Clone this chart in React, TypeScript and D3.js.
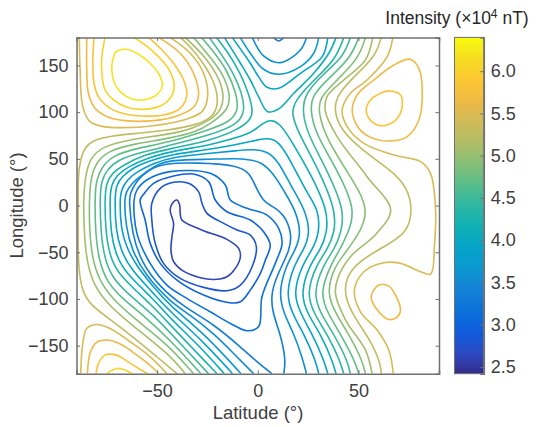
import React, { useRef, useEffect } from 'react';
import * as d3 from 'd3';

type Pt = [number, number]; // [latitude, longitude]

const latTicks = [-50, 0, 50];
const lonTicks = [-150, -100, -50, 0, 50, 100, 150];
const barTicks = [2.5, 3, 3.5, 4, 4.5, 5, 5.5, 6];
const barDomain = [2.42, 6.4];

// contour levels, x10^4 nT
const levels = [2.61, 2.8, 2.99, 3.18, 3.37, 3.56, 3.75, 3.94, 4.13, 4.32, 4.51, 4.7, 4.89, 5.08, 5.27, 5.46, 5.65, 5.84, 6.03, 6.22];

// parula samples, evenly spaced
const parula = ['#352a87', '#2c4cc6', '#0f5cdd', '#0a72d9', '#1481d6', '#0c97d1', '#06a4ca', '#0fb0b4', '#2eb7a4', '#58bd8a', '#87bf77', '#b2bd65', '#d1bb59', '#efb944', '#fec832', '#f5dd21', '#f9fb0e'];

const c1: Pt[] = [[-43.5,-4.8],[-42.6,1.6],[-40.1,5.9],[-38.8,0.5],[-38.5,-8.4],[-37.7,-15.5],[-26.9,-26.9],[-15.3,-36.2],[-9.5,-45.9],[-8.6,-54.8],[-11.1,-67.3],[-15.3,-76.2],[-21.9,-79.1],[-30.2,-76.2],[-37.7,-69.1],[-41.8,-60.1],[-43.1,-47.7],[-42.6,-33.4],[-41.8,-19.1]];
const c2: Pt[] = [[-52.6,2.4],[-48.4,18.4],[-41.8,24.9],[-34.3,23.8],[-29.4,14.9],[-27.7,2.4],[-25.2,-8.4],[-16.9,-19.1],[-10.3,-26.2],[-3.7,-31.6],[-0.7,-44.1],[-2.8,-65.5],[-8.6,-85.1],[-15.3,-91.2],[-26.9,-87.6],[-38.5,-78],[-46.8,-61.9],[-50.9,-40.5],[-52.6,-15.5]];
const c3: Pt[] = [[-58.4,5.9],[-56.7,12],[-51.7,23.8],[-41.8,31.6],[-31.9,33.8],[-24.4,25.6],[-21.1,5.9],[-15.3,-6.6],[-3.7,-15.5],[2.9,-28],[6.2,-42.3],[3.8,-58.4],[1.3,-72.6],[-3.7,-90.5],[-8.6,-103],[-14,-104],[-26.9,-95.8],[-40.1,-79.8],[-48.4,-61.9],[-53.4,-40.5],[-55.9,-15.5]];
const c4: Pt[] = [[-61.4,5.9],[-60,16.6],[-55.1,27.4],[-43.5,36.3],[-23.6,34.5],[-16.1,22],[-13.6,5.9],[-5.3,-3],[4.6,-10.2],[10.4,-24.4],[12.1,-40.5],[8.7,-61.9],[2.1,-97.6],[0.4,-129.8],[-5.3,-134],[-13.6,-126.2],[-23.6,-113.7],[-35.2,-99.4],[-45.1,-85.1],[-53.4,-61.9],[-60,-29.8]];
const c5: Pt[] = [[7,-180],[0.5,-169],[-8.6,-151.2],[-21.9,-126.9],[-36.8,-108.3],[-48.4,-87.6],[-57.6,-61.9],[-62.5,-29.8],[-63.9,5.9],[-63.4,13.1],[-60,27.4],[-54.2,38.1],[-46.8,45.2],[-30.2,45.9],[-10.3,43.4],[-3.7,34.5],[-1.2,20.2],[3,4.1],[6.2,0.5],[12.9,-8.4],[17,-29.8],[15.9,-47.7],[10.4,-70.9],[6.6,-92.3],[7.1,-113.7],[11.2,-136.9],[14,-165.5],[12.9,-180]];
const c5Top: Pt[] = [[7.9,180],[10.4,176.2],[12.9,180]];
const c6: Pt[] = [[-2,-180],[-12,-158.3],[-21.9,-136.9],[-33.5,-117.3],[-43.5,-103],[-55.9,-74.4],[-62.5,-47.7],[-65.5,-22.7],[-66.3,5.9],[-65.3,14.9],[-62.5,23.8],[-57.6,32.7],[-50.1,44.1],[-43.5,48.8],[-23.6,49.5],[-10.3,50.6],[-3.7,48.8],[1.3,47],[7.9,34.5],[13.7,13.1],[18.7,-4.8],[21.7,-29.8],[18.7,-47.7],[13.7,-65.5],[10.4,-94.1],[12.9,-115.5],[17.9,-136.9],[22,-161.9],[24.2,-180]];
const c6Top: Pt[] = [[-2.7,180],[2.9,160.2],[11.2,153],[21.2,166.6],[24.2,180]];
const c7: Pt[] = [[-8.3,-180],[-26.9,-136.2],[-43.5,-107.6],[-51.7,-87.6],[-60.5,-63.7],[-65.3,-44.1],[-68,-24.4],[-68.5,5.9],[-67.8,16.6],[-65,27.4],[-60,36.3],[-51.7,45.2],[-43.5,51.6],[-23.6,55.9],[-10.3,58.8],[-3.7,60.2],[4.6,58.8],[10.4,47],[16.2,22],[23.7,-4.8],[26.1,-29.8],[22.8,-47.7],[17.9,-63.7],[14,-94.1],[17,-115.5],[23.7,-140.5],[28.6,-165.5],[30.3,-180]];
const c7Top: Pt[] = [[-8.7,180],[-3.7,163],[2.9,145.9],[10.4,140.5],[21.2,148.7],[27.8,163],[30.3,180]];
const c8: Pt[] = [[-12.5,-180],[-26.9,-145.8],[-43.5,-113.7],[-51.7,-94.1],[-63.4,-67.3],[-68,-47.7],[-70.5,-26.2],[-71,5.9],[-70.3,22],[-67.5,30.9],[-61.7,40.9],[-53.4,48.1],[-43.5,54.5],[-23.6,60.2],[-12,64.8],[-3.7,68.4],[4.6,72.7],[10.4,69.5],[17,45.2],[24.5,13.1],[30.3,-4.8],[30.6,-29.8],[27,-47.7],[22,-63.7],[17.5,-94.1],[21.2,-115.5],[27.8,-140.5],[32.8,-165.5],[34.8,-180]];
const c8Top: Pt[] = [[-12.7,180],[-3.7,152.3],[0.4,138],[4.6,126.6],[10.4,125.5],[21.2,141.6],[32,159.4],[34.8,180]];
const c9: Pt[] = [[-16.6,-180],[-30.2,-147.6],[-43.5,-120.8],[-51.7,-100.1],[-66.3,-70.9],[-70.6,-51.2],[-73,-29.8],[-73.5,5.9],[-72.8,22],[-70,32.7],[-64.2,41.6],[-55.1,50.6],[-43.5,57.7],[-23.6,64.8],[-13.6,70.9],[-3.7,77.3],[0.4,84.5],[5.4,92],[10.4,90],[17,68.4],[26.1,34.5],[34.8,-4.8],[34.4,-29.8],[31.1,-47.7],[25.6,-63.7],[21.2,-94.1],[24.5,-115.5],[32,-140.5],[36.9,-165.5],[38.9,-180]];
const c9Top: Pt[] = [[-16.6,180],[-8.6,152.3],[-3.7,134.4],[0.4,116.6],[4.9,100.5],[10.4,103.5],[17.9,120.2],[27.8,141.6],[35.3,163],[38.9,180]];
const c10Left: Pt[] = [[-20.6,180],[-14.4,163],[-8.6,141.6],[-4.5,120.2],[-2,98.8],[-4.5,89.8],[-10.3,80.9],[-23.6,69.5],[-43.5,60.9],[-56.7,54.1],[-66.7,43.4],[-72.5,34.5],[-75.3,23.8],[-76,5.9],[-75.5,-29.8],[-73.3,-54.8],[-69.2,-74.4],[-51.7,-108.3],[-43.5,-128],[-20.2,-180]];
const c10Right: Pt[] = [[42.7,180],[38.6,155.9],[27.8,134.4],[18.7,113],[16.5,98.8],[20.3,77.3],[29.5,41.6],[38.9,-4.8],[38.1,-29.8],[34.4,-47.7],[29,-63.7],[24.2,-94.1],[27.8,-115.5],[35.3,-140.5],[40.7,-165.5],[42.7,-180]];
const c11Left: Pt[] = [[-24.1,180],[-17.8,161.2],[-12,141.6],[-7.8,120.2],[-6.2,100.5],[-10.3,86.3],[-23.6,75.5],[-43.5,64.5],[-58.4,56.6],[-69.2,49.5],[-75,38.1],[-77.8,25.6],[-78.4,5.9],[-77.9,-29.8],[-76.1,-56.6],[-72.1,-78],[-64.2,-95.1],[-51.7,-117.3],[-43.5,-136.2],[-24.4,-180]];
const c11Right: Pt[] = [[46,180],[42.7,159.4],[32,139.8],[23.7,120.2],[22,102.3],[24.5,77.3],[34.4,38.1],[43.2,-4.8],[41.4,-29.8],[37.8,-47.7],[32.4,-63.7],[27.5,-94.1],[31.1,-115.5],[38.6,-140.5],[44.4,-165.5],[46,-180]];
const c12Left: Pt[] = [[-28,180],[-21.9,164.8],[-15.3,145.2],[-10.6,120.2],[-9.5,102.3],[-13.6,89.8],[-23.6,81.6],[-43.5,68],[-60,61.3],[-71.6,54.1],[-77.4,41.6],[-80.3,27.4],[-80.9,5.9],[-80.6,-29.8],[-78.9,-58.4],[-75,-81.6],[-67.5,-99.4],[-55.9,-119.1],[-43.5,-144],[-28.2,-180]];
const c12Right: Pt[] = [[50.2,180],[46,157.7],[36.1,138],[27,118.4],[26.1,102.3],[28.6,77.3],[38.6,41.6],[49,-4.8],[44.7,-29.8],[40.7,-47.7],[36.1,-63.7],[30.8,-94.1],[34.8,-115.5],[41.9,-140.5],[48,-165.5],[50.2,-180]];
const c13Left: Pt[] = [[-31.9,180],[-25.2,163],[-17.8,143.4],[-13.6,120.2],[-14.4,102.3],[-23.6,87.3],[-30.2,79.1],[-43.5,72],[-61.7,65.9],[-74.1,58.8],[-79.9,47],[-82.9,30.9],[-83.7,5.9],[-83.6,-29.8],[-81.9,-60.1],[-77.9,-83.4],[-70.8,-103],[-59.2,-124.4],[-43.5,-151.2],[-31.9,-180]];
const c13Right: Pt[] = [[53.5,180],[50.2,157.7],[39.4,134.4],[30.3,114.8],[30.3,98.8],[33.6,73.8],[44.4,36.3],[56.3,-4.8],[49.4,-33.4],[41.9,-54.8],[37.8,-67.3],[34.1,-94.1],[39.1,-117.3],[46,-140.5],[51.8,-165.5],[53.5,-180]];
const c14Left: Pt[] = [[-36,180],[-27.7,163],[-20.2,141.6],[-16.6,120.2],[-17.8,102.3],[-23.6,91.6],[-31.9,82.7],[-43.5,76.3],[-63.4,70.9],[-77.4,63],[-83.3,50.6],[-85.7,30.9],[-86.6,5.9],[-86.2,-29.8],[-84.9,-60.1],[-81.3,-86.2],[-74.1,-106.6],[-62.5,-128],[-43.5,-160.1],[-36,-180]];
const c14Right: Pt[] = [[57.1,180],[53.5,155.9],[42.7,134.4],[34.4,116.6],[33.6,100.5],[39.4,73.8],[54.3,30.9],[66,-4.8],[59,-29.8],[46,-54.8],[39.7,-78],[38.6,-94.1],[43.6,-122.6],[53.5,-154.8],[56.8,-180]];
const c15Left: Pt[] = [[-38.5,180],[-33.5,170.2],[-26.9,152.3],[-21.1,130.9],[-19.4,109.5],[-21.9,95.2],[-30.2,86.3],[-43.5,80.9],[-60,77.3],[-73.3,74.5],[-81.6,70.2],[-85.7,63],[-88.2,48.8],[-89.2,30.9],[-89.1,5.9],[-89.2,-29.8],[-89.1,-65.5],[-87.4,-90.5],[-83.3,-106.6],[-71.6,-124.4],[-60,-144],[-50.1,-161.9],[-40.1,-180]];
const c15Right: Pt[] = [[61.3,180],[58.5,159.4],[47.7,138],[39.4,118.4],[37.8,102.3],[41.1,80.9],[52.7,57.7],[66,38.1],[74.2,20.2],[77,-4.8],[74.2,-29.8],[62.6,-44.1],[51,-58.4],[43.6,-76.2],[43.1,-97.6],[47.7,-119.1],[56,-144],[61,-169],[61.3,-180]];
const c16TopLeft: Pt[] = [[-88.6,180],[-88.2,145.2],[-86.9,105.9],[-83.3,89.8],[-76.6,84.5],[-66.7,83.4],[-51.7,85.5],[-36.8,91.6],[-27.7,100.5],[-24.9,116.6],[-26.9,141.6],[-33.5,163],[-43.5,180]];
const c16BottomLeft: Pt[] = [[-87.9,-180],[-86.9,-147.6],[-84.9,-131.6],[-80.3,-127.3],[-73.3,-131.6],[-63.4,-145.8],[-53.4,-161.9],[-45.1,-180]];
const c16Right: Pt[] = [[67.1,180],[64.3,159.4],[54.3,134.4],[46,120.2],[41.9,102.3],[44.4,84.5],[52.7,66.6],[67.6,54.1],[80.9,47],[85.8,34.5],[88.3,-4.8],[87.8,-40.5],[85.8,-73.4],[80.9,-70.9],[70.9,-61.9],[62.6,-61.2],[52.7,-70.9],[48,-90.5],[51,-113.7],[59.3,-133.3],[65.1,-154.8],[67.3,-180]];
const c17TopLeft: Pt[] = [[-84.9,180],[-84.9,145.2],[-84.1,120.2],[-80.8,104.1],[-74.1,94.5],[-65.8,90.9],[-51.7,90.9],[-40.1,95.9],[-31.9,105.2],[-29.4,118.4],[-31.9,141.6],[-38.5,163],[-49.3,180]];
const c17BottomLeft: Pt[] = [[-84.6,-180],[-83.3,-158.3],[-80.3,-146.9],[-75,-144],[-68.3,-148.3],[-60,-160.1],[-51.7,-174.4],[-49.3,-180]];
const c17UpperRight: Pt[] = [[46.9,102.3],[49.4,118.4],[57.6,134.4],[67.6,150.5],[75.6,156.6],[80,146.9],[81.7,120.2],[80,91.6],[74.2,73.8],[66,69.1],[56,73],[50.2,82.7]];
const c17LowerRight: Pt[] = [[56.3,-97.6],[60.1,-85.1],[65.1,-86.2],[68.4,-95.8],[70.9,-111.9],[69.3,-119.1],[65.1,-121.9],[60.1,-113.7]];
const c18TopLeft: Pt[] = [[-81.3,180],[-81.9,152.3],[-81.3,130.9],[-79.1,116.6],[-73.3,104.1],[-65.8,98],[-57.6,95.9],[-46.8,97],[-38.5,104.1],[-35.2,118.4],[-36.8,134.4],[-41.8,152.3],[-48.4,168.4],[-54.2,180]];
const c18BottomLeft: Pt[] = [[-80.3,-180],[-79.1,-169],[-75.8,-160.1],[-70,-160.1],[-65,-166.5],[-59.2,-174.4],[-54.7,-180]];
const c18UpperRight: Pt[] = [[53.8,102.3],[56,113],[61,120.2],[65.6,122.7],[70.9,118.4],[71.7,105.9],[69.3,93.4],[64.3,86.3],[59.3,86.3],[55.2,93.4]];
const c19TopLeft: Pt[] = [[-75.8,180],[-77.4,159.4],[-77.4,141.6],[-75.8,123.7],[-71.6,113],[-65,105.2],[-57.6,103],[-48.4,106.6],[-43.5,114.8],[-41.5,127.3],[-43.5,143.4],[-49.3,159.4],[-55.9,171.9],[-61.7,180]];
const c19BottomLeft: Pt[] = [[-75,-180],[-70,-174.4],[-65.8,-176.2],[-62.2,-180]];
const c20: Pt[] = [[-72.5,145.2],[-72,155.9],[-70.3,164.8],[-65.3,167.3],[-60,163],[-53.4,152.3],[-49.3,141.6],[-47.3,129.1],[-49.3,120.2],[-53.4,114.8],[-58.4,112.7],[-63.4,114.8],[-68.3,122],[-71.1,130.9]];

// [level index, points, closed]
const contourLines: [number, Pt[], boolean][] = [
  [0, c1, true], [1, c2, true], [2, c3, true], [3, c4, true],
  [4, c5, false], [4, c5Top, false], [5, c6, false], [5, c6Top, false],
  [6, c7, false], [6, c7Top, false], [7, c8, false], [7, c8Top, false],
  [8, c9, false], [8, c9Top, false], [9, c10Left, false], [9, c10Right, false],
  [10, c11Left, false], [10, c11Right, false], [11, c12Left, false], [11, c12Right, false],
  [12, c13Left, false], [12, c13Right, false], [13, c14Left, false], [13, c14Right, false],
  [14, c15Left, false], [14, c15Right, false], [15, c16TopLeft, false], [15, c16BottomLeft, false], [15, c16Right, false],
  [16, c17TopLeft, false], [16, c17BottomLeft, false], [16, c17UpperRight, true], [16, c17LowerRight, true],
  [17, c18TopLeft, false], [17, c18BottomLeft, false], [17, c18UpperRight, true],
  [18, c19TopLeft, false], [18, c19BottomLeft, false], [19, c20, true],
];

const FONT = '"Liberation Sans", Arial, sans-serif';
const TEXT = '#404040';
const BOX = '#707070';
const FONT_SIZE = 18;

const App = () => {
  const svgRef = useRef<SVGSVGElement>(null);

  useEffect(() => {
    const svg = d3.select(svgRef.current);
    svg.selectAll('*').remove();

    const x = d3.scaleLinear().domain([-90, 90]).range([76.5, 439]);
    const y = d3.scaleLinear().domain([-180, 180]).range([373.7, 37.4]);
    const barY = d3.scaleLinear().domain(barDomain).range([373.7, 37.4]);
    const colorAt = d3.scaleSequential(d3.piecewise(d3.interpolateRgb, parula)).domain(barDomain);

    const defs = svg.append('defs');
    defs.append('clipPath').attr('id', 'plot').append('rect')
      .attr('x', 76.5).attr('y', 37.4).attr('width', 362.5).attr('height', 336.3);
    const grad = defs.append('linearGradient').attr('id', 'bar')
      .attr('x1', 0).attr('x2', 0).attr('y1', 1).attr('y2', 0);
    d3.range(0, 1.001, 0.02).forEach(t => {
      grad.append('stop').attr('offset', t)
        .attr('stop-color', colorAt(barDomain[0] + t * (barDomain[1] - barDomain[0])));
    });

    // long open lines get a b-spline so the hand-read points do not wobble,
    // loops and tight corners stay on their points
    const smooth = d3.line<Pt>().x(d => x(d[0])).y(d => y(d[1])).curve(d3.curveBasis);
    const open = d3.line<Pt>().x(d => x(d[0])).y(d => y(d[1])).curve(d3.curveCatmullRom.alpha(0.5));
    const closed = d3.line<Pt>().x(d => x(d[0])).y(d => y(d[1])).curve(d3.curveCatmullRomClosed.alpha(0.5));
    const pathOf = (d: [number, Pt[], boolean]) => {
      if (d[2]) return closed(d[1]);
      return d[1].length > 15 && d[1] !== c16Right ? smooth(d[1]) : open(d[1]);
    };

    svg.append('g').attr('clip-path', 'url(#plot)')
      .selectAll('path').data(contourLines).enter().append('path')
      .attr('d', pathOf)
      .attr('fill', 'none')
      .attr('stroke', d => colorAt(levels[d[0]]))
      .attr('stroke-width', 1.6)
      .attr('stroke-linejoin', 'round');

    const styleAxis = (g: any) => {
      g.selectAll('text').attr('font-family', FONT).attr('font-size', FONT_SIZE).attr('fill', TEXT);
      g.selectAll('line').attr('stroke', BOX).attr('stroke-width', 1);
      g.select('.domain').attr('stroke', BOX).attr('stroke-width', 1.5);
    };
    const minus = (d: any) => String(d).replace('-', '\u2212');

    svg.append('g').attr('transform', 'translate(0,373.7)')
      .call(d3.axisBottom(x).tickValues(latTicks).tickFormat(minus).tickSize(-3.5).tickPadding(11))
      .call(styleAxis);
    svg.append('g').attr('transform', 'translate(76.5,0)')
      .call(d3.axisLeft(y).tickValues(lonTicks).tickFormat(minus).tickSize(-3.5).tickPadding(8))
      .call(styleAxis);
    svg.append('g').attr('transform', 'translate(0,37.4)')
      .call(d3.axisTop(x).tickValues(latTicks).tickFormat(() => '').tickSize(-3.5))
      .call(styleAxis);
    svg.append('g').attr('transform', 'translate(439,0)')
      .call(d3.axisRight(y).tickValues(lonTicks).tickFormat(() => '').tickSize(-3.5))
      .call(styleAxis);

    // colorbar
    svg.append('rect').attr('x', 454.5).attr('y', 37.4).attr('width', 29.3).attr('height', 336.3)
      .attr('fill', 'url(#bar)');
    svg.append('g').attr('transform', 'translate(483.8,0)')
      .call(d3.axisRight(barY).tickValues(barTicks).tickFormat(d3.format('.1f') as any).tickSize(-3.5).tickPadding(7))
      .call(styleAxis);
    svg.append('rect').attr('x', 454.5).attr('y', 37.4).attr('width', 29.3).attr('height', 336.3)
      .attr('fill', 'none').attr('stroke', BOX).attr('stroke-width', 1);

    const label = (tx: number, ty: number, str: string, rot = 0) =>
      svg.append('text').attr('transform', `translate(${tx},${ty}) rotate(${rot})`)
        .attr('text-anchor', 'middle').attr('font-family', FONT).attr('font-size', 18.5)
        .attr('fill', TEXT).text(str);

    label(258, 419, 'Latitude (\u00b0)');
    label(23, 205.5, 'Longitude (\u00b0)', -90);

    const title = svg.append('text').attr('x', 457).attr('y', 24).attr('text-anchor', 'middle')
      .attr('font-family', FONT).attr('font-size', 17.5).attr('fill', '#262626');
    title.append('tspan').text('Intensity (\u00d710');
    title.append('tspan').attr('font-size', 12).attr('dy', -6).text('4');
    title.append('tspan').attr('dy', 6).text(' nT)');
  }, []);

  return <svg ref={svgRef} width={541} height={427} style={{ position: 'absolute', left: 0, top: 0, background: '#fff' }} />;
};

export default App;
